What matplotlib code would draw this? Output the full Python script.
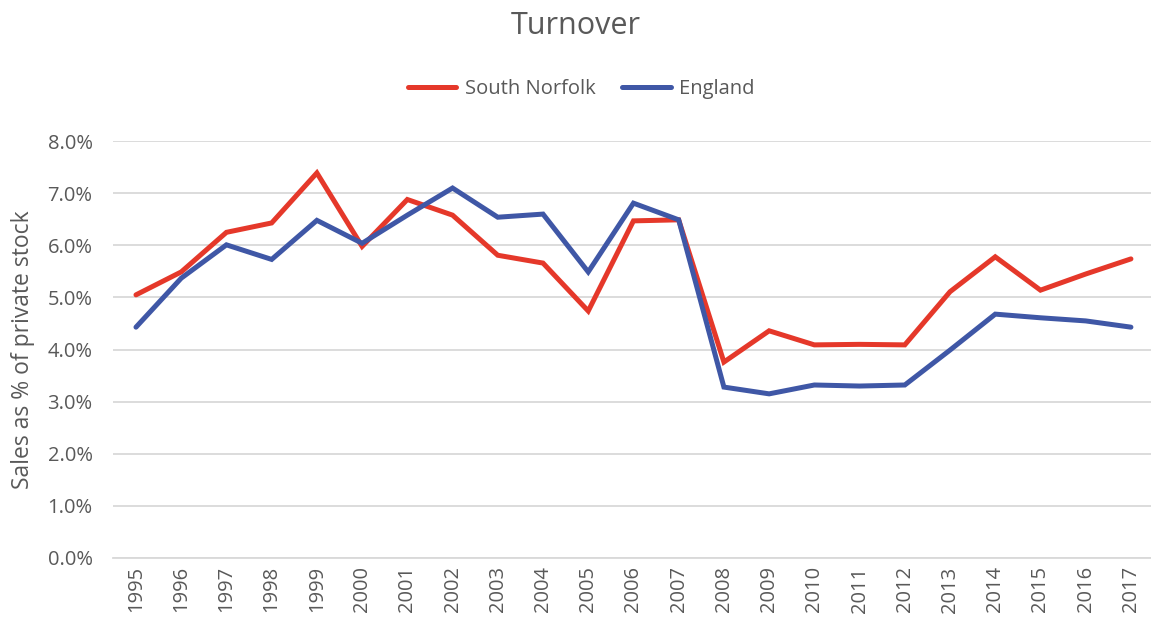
import matplotlib
matplotlib.use("Agg")
import matplotlib.pyplot as plt
from matplotlib.ticker import PercentFormatter

years = list(range(1995, 2018))
south_norfolk = [5.05, 5.49, 6.25, 6.43, 7.39, 5.98, 6.88, 6.58, 5.81, 5.66, 4.74,
                 6.47, 6.49, 3.76, 4.36, 4.09, 4.10, 4.09, 5.11, 5.78, 5.14, 5.45, 5.74]
england = [4.43, 5.37, 6.01, 5.73, 6.48, 6.04, 6.58, 7.10, 6.54, 6.60, 5.49,
           6.81, 6.49, 3.28, 3.15, 3.32, 3.30, 3.32, 3.99, 4.68, 4.61, 4.55, 4.43]

grey = "#595959"
plt.rcParams["font.family"] = ["Open Sans", "DejaVu Sans"]

fig = plt.figure(figsize=(11.51, 6.24), dpi=100)
ax = fig.add_axes([0.0985, 0.1058, 0.9037, 0.668])

ax.plot(years, south_norfolk, color="#E5382A", lw=3.6, label="South Norfolk",
        solid_capstyle="round", solid_joinstyle="miter")
ax.plot(years, england, color="#3F57A6", lw=3.6, label="England",
        solid_capstyle="round", solid_joinstyle="miter")

ax.set_xlim(1994.5, 2017.5)
ax.set_ylim(0, 8)
ax.set_yticks([i for i in range(9)])
ax.yaxis.set_major_formatter(PercentFormatter(decimals=1))
ax.set_xticks(years)
ax.set_xticklabels([str(y) for y in years], rotation=90)
ax.tick_params(axis="both", length=0, labelsize=14.5, colors=grey)
ax.tick_params(axis="y", pad=15)
ax.tick_params(axis="x", pad=6)
ax.grid(axis="y", color="#D9D9D9", lw=1.3)
ax.set_axisbelow(True)
for s in ["top", "right", "left"]:
    ax.spines[s].set_visible(False)
ax.spines["bottom"].set_color("#D9D9D9")
ax.spines["bottom"].set_linewidth(1.3)

ax.set_ylabel("Sales as % of private stock", fontsize=16.5, color=grey)
ax.yaxis.set_label_coords(-0.075, 0.5)
fig.text(0.5, 0.958, "Turnover", fontsize=22, color=grey, ha="center", va="center")
leg = fig.legend(loc="center", bbox_to_anchor=(0.505, 0.857), ncol=2, frameon=False,
                 fontsize=14.5, handlelength=2.4, handletextpad=0.4, columnspacing=1.35)
for t in leg.get_texts():
    t.set_color(grey)

fig.savefig("out.png", dpi=100)
